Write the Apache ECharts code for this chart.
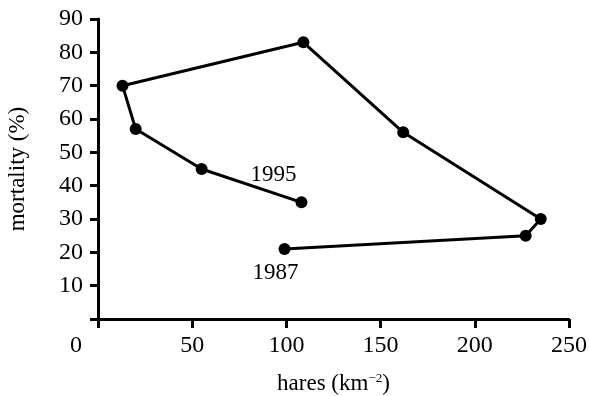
<!DOCTYPE html>
<html>
<head>
<meta charset="utf-8">
<script src="https://cdn.jsdelivr.net/npm/echarts@6/dist/echarts.min.js"></script>
<style>
  html, body { margin: 0; padding: 0; background: #fff; }
  #chart { width: 589px; height: 396px; }
</style>
</head>
<body>
<div id="chart"></div>
<script>
// hares density vs mortality, 1987 -> 1995
const hares = [99, 227, 235, 162, 109, 13, 20, 55, 108]
const mortality = [21, 25, 30, 56, 83, 70, 57, 45, 35]
const firstYear = '1987'
const lastYear = '1995'
const xTicks = [0, 50, 100, 150, 200, 250]
const yTicks = [0, 10, 20, 30, 40, 50, 60, 70, 80, 90]

const font = 'Liberation Serif'

let points = hares.map((h, i) => {
  let item = { value: [h, mortality[i]] }
  if (i === 0) {
    item.label = { show: true, formatter: firstYear, position: 'bottom', offset: [-9, 1] }
  }
  if (i === hares.length - 1) {
    item.label = { show: true, formatter: lastYear, position: 'top', offset: [-28, -5] }
  }
  return item
})

let myChart = echarts.init(document.getElementById('chart'))
myChart.setOption({
  animation: false,
  grid: {
    left: 98,
    right: 20,
    top: 19,
    bottom: 77,
    containLabel: false,
    outerBoundsMode: 'none'
  },
  xAxis: {
    type: 'value',
    min: xTicks[0],
    max: xTicks[xTicks.length - 1],
    interval: 50,
    name: 'hares (km{sup|−2})',
    nameLocation: 'middle',
    nameGap: 53,
    nameTextStyle: {
      fontFamily: font,
      fontSize: 23,
      color: '#000',
      rich: {
        sup: { fontFamily: font, fontSize: 13, padding: [0, 0, 10, 0], color: '#000' }
      }
    },
    axisLine: { show: true, lineStyle: { color: '#000', width: 3 } },
    axisTick: { show: true, length: 9, lineStyle: { color: '#000', width: 3 } },
    splitLine: { show: false },
    axisLabel: {
      margin: 15,
      fontFamily: font,
      fontSize: 24,
      color: '#000',
      formatter: v => v === 0 ? '{z|0}' : String(v),
      rich: {
        z: { fontFamily: font, fontSize: 24, color: '#000', padding: [0, 44, 0, 0] }
      }
    }
  },
  yAxis: {
    type: 'value',
    min: yTicks[0],
    max: yTicks[yTicks.length - 1],
    interval: 10,
    name: 'mortality (%)',
    nameLocation: 'middle',
    nameGap: 69,
    nameTextStyle: { fontFamily: font, fontSize: 23, color: '#000' },
    axisLine: { show: true, lineStyle: { color: '#000', width: 3 } },
    axisTick: { show: true, length: 8, lineStyle: { color: '#000', width: 3 } },
    splitLine: { show: false },
    axisLabel: {
      margin: 15,
      fontFamily: font,
      fontSize: 24,
      color: '#000',
      formatter: v => v === 0 ? '' : String(v)
    }
  },
  series: [
    {
      type: 'line',
      data: points,
      symbol: 'circle',
      symbolSize: 12,
      lineStyle: { color: '#000', width: 3 },
      itemStyle: { color: '#000' },
      label: {
        fontFamily: font,
        fontSize: 23,
        color: '#000'
      }
    }
  ]
})
</script>
</body>
</html>
